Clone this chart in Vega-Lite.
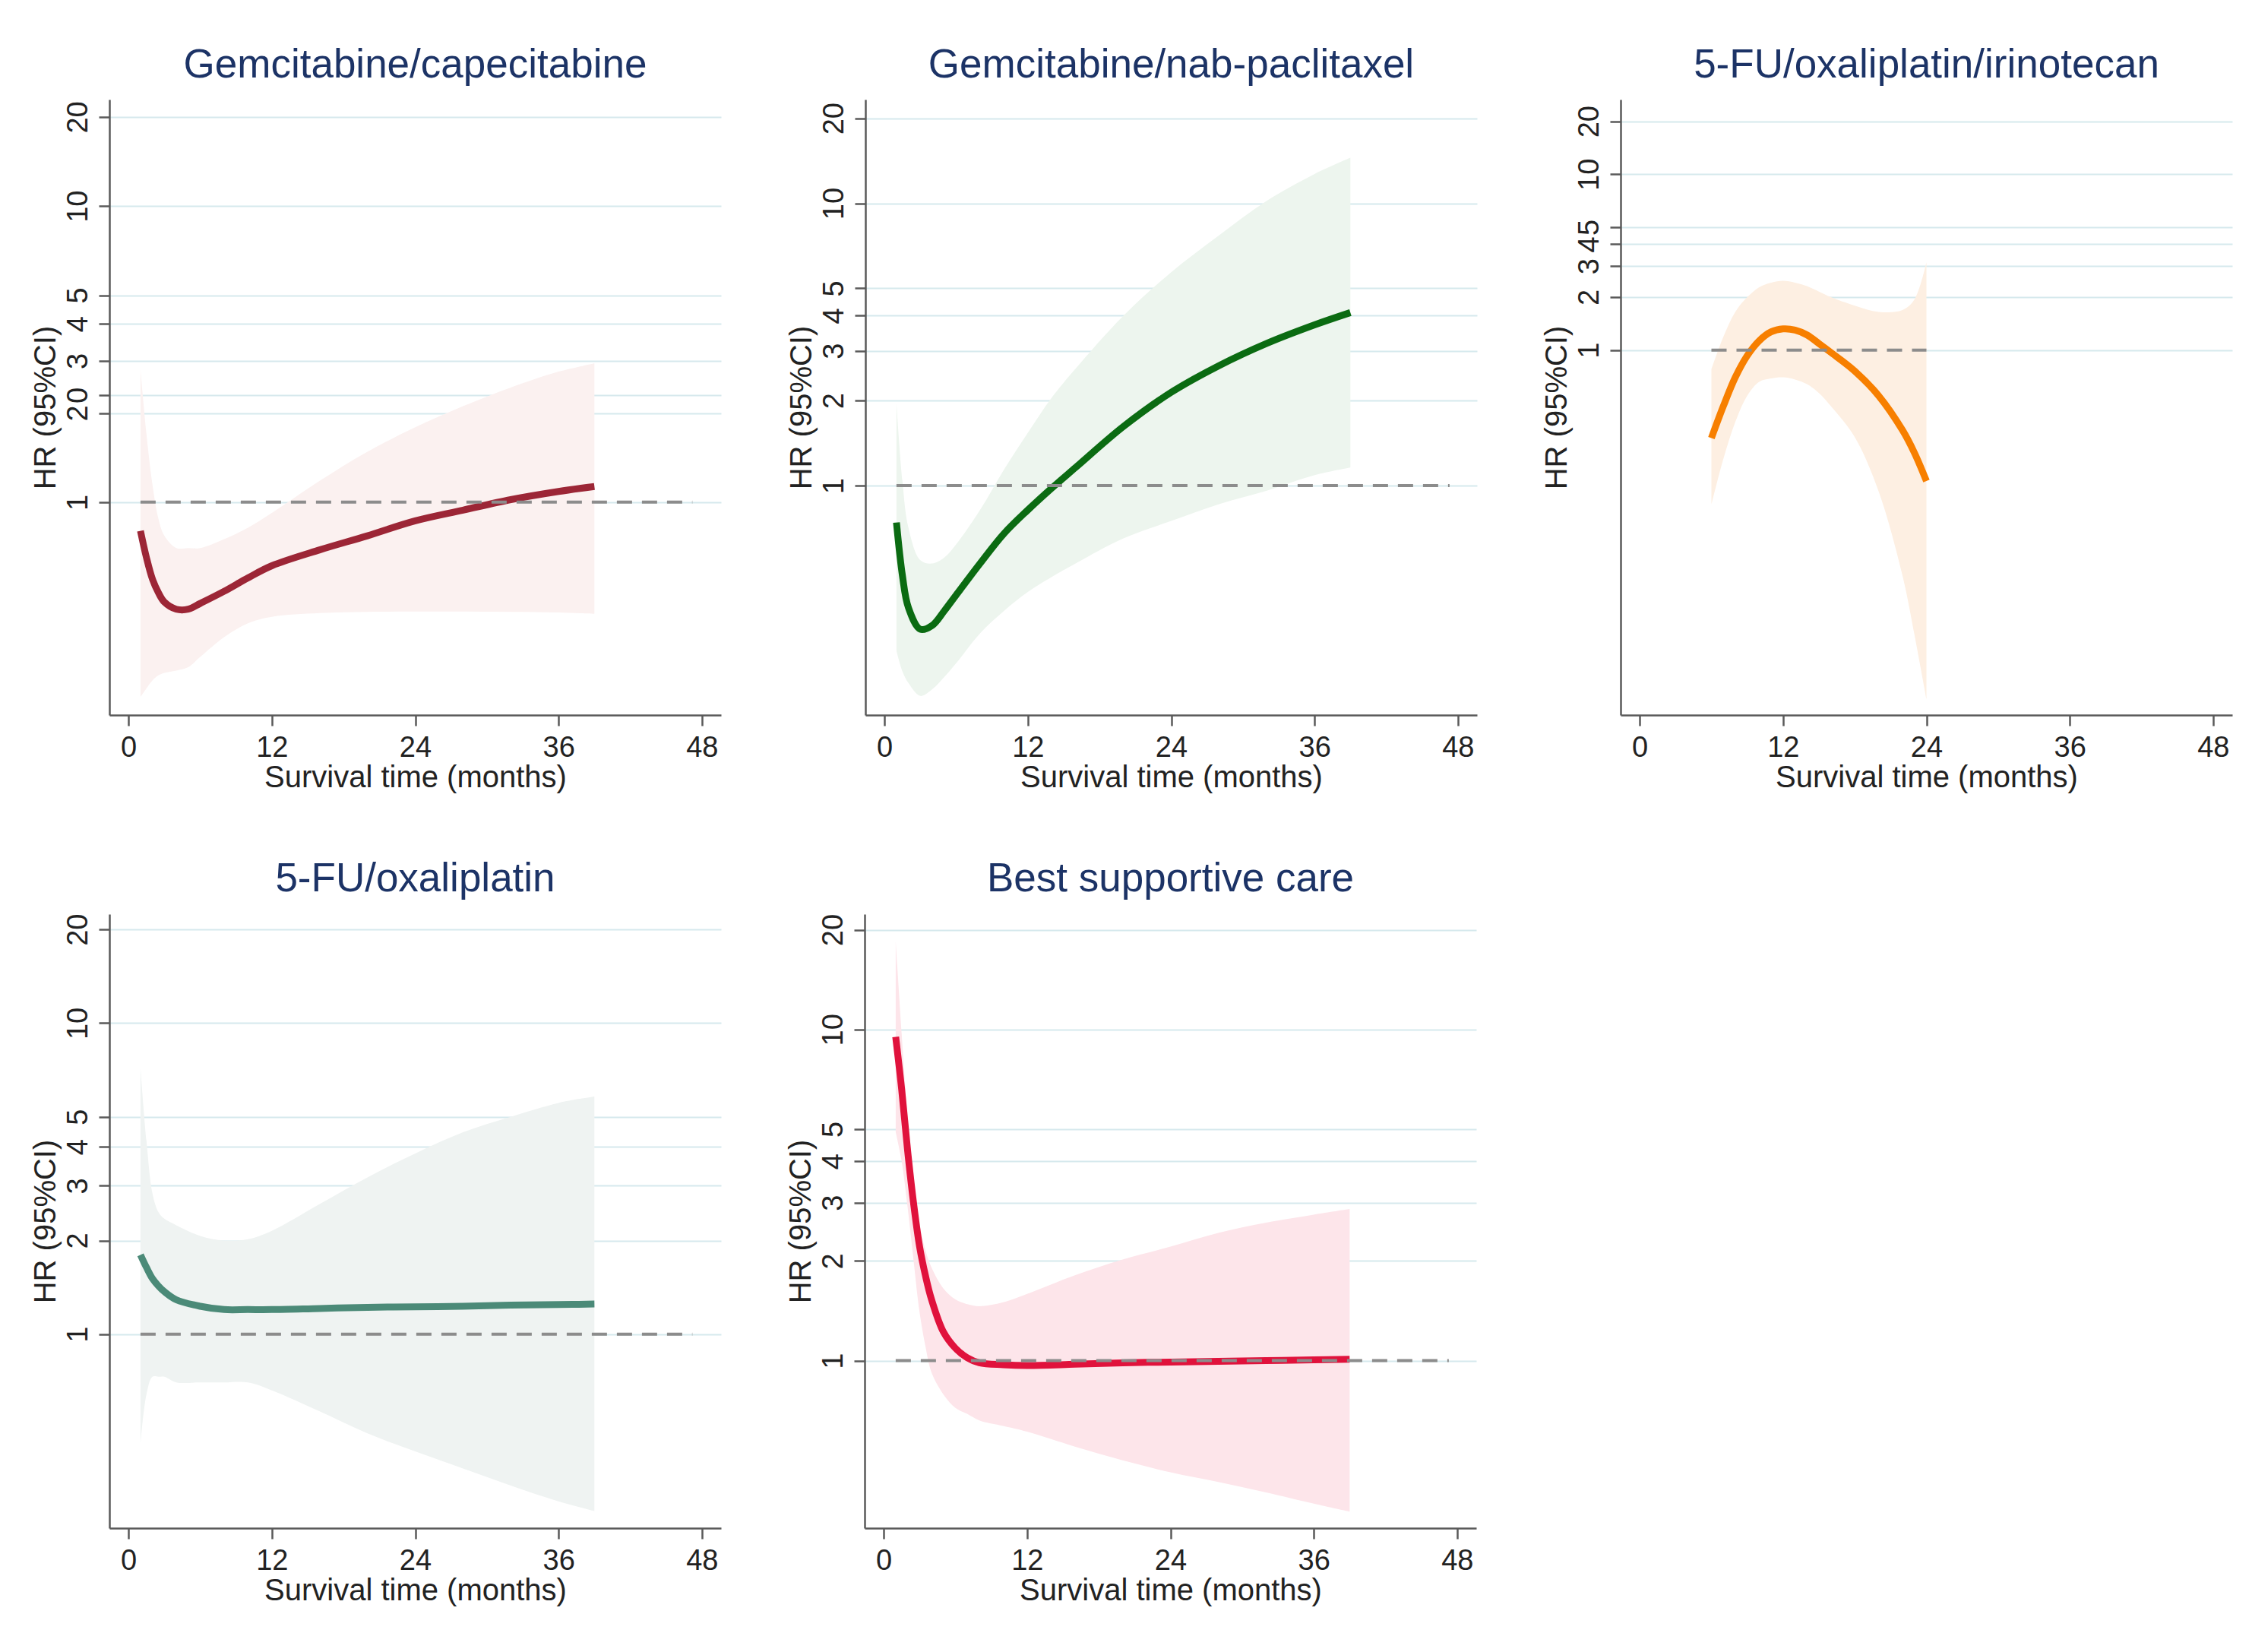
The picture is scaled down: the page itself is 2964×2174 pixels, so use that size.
{
"$schema": "https://vega.github.io/schema/vega-lite/v6.json",
"background": "white",
"padding": {"left": 40, "top": 60, "right": 5, "bottom": 5},
"config": {
  "font": "Liberation Sans",
  "view": {"stroke": null},
  "axis": {"labelFontSize": 38, "titleFontSize": 40, "titleFontWeight": "normal", "labelColor": "#222222", "titleColor": "#222222", "domainColor": "#5a5a5a", "domainWidth": 2.5, "tickColor": "#5a5a5a", "tickWidth": 2.5, "tickSize": 14, "gridColor": "#d6e9ed", "gridWidth": 2, "labelOverlap": false, "labelFlush": false},
  "axisX": {"labelPadding": 10, "titlePadding": 0},
  "axisY": {"labelAngle": -90, "labelAlign": "center", "labelBaseline": "bottom", "labelPadding": 8, "titlePadding": 4},
  "title": {"fontSize": 53, "fontWeight": "normal", "color": "#1c3366", "offset": 18, "anchor": "middle", "frame": "group"}
},
"datasets": {
  "curves": [
    {"p":"A","t":1,"hr":0.80,"lo":0.22,"hi":2.8},
    {"p":"A","t":1.5,"hr":0.65,"lo":0.235,"hi":1.7},
    {"p":"A","t":2,"hr":0.55,"lo":0.25,"hi":1.15},
    {"p":"A","t":2.5,"hr":0.495,"lo":0.26,"hi":0.88},
    {"p":"A","t":3,"hr":0.46,"lo":0.265,"hi":0.77},
    {"p":"A","t":4,"hr":0.435,"lo":0.27,"hi":0.70},
    {"p":"A","t":5,"hr":0.435,"lo":0.277,"hi":0.70},
    {"p":"A","t":6,"hr":0.455,"lo":0.30,"hi":0.70},
    {"p":"A","t":8,"hr":0.50,"lo":0.35,"hi":0.75},
    {"p":"A","t":10,"hr":0.555,"lo":0.39,"hi":0.82},
    {"p":"A","t":12,"hr":0.61,"lo":0.41,"hi":0.92},
    {"p":"A","t":16,"hr":0.69,"lo":0.422,"hi":1.18},
    {"p":"A","t":20,"hr":0.77,"lo":0.426,"hi":1.48},
    {"p":"A","t":24,"hr":0.865,"lo":0.427,"hi":1.79},
    {"p":"A","t":28,"hr":0.94,"lo":0.427,"hi":2.11},
    {"p":"A","t":32,"hr":1.02,"lo":0.426,"hi":2.44},
    {"p":"A","t":36,"hr":1.087,"lo":0.424,"hi":2.76},
    {"p":"A","t":39,"hr":1.13,"lo":0.42,"hi":2.94},
    {"p":"B","t":1,"hr":0.74,"lo":0.26,"hi":1.96},
    {"p":"B","t":1.5,"hr":0.48,"lo":0.22,"hi":1.04},
    {"p":"B","t":2,"hr":0.37,"lo":0.20,"hi":0.71},
    {"p":"B","t":3,"hr":0.31,"lo":0.18,"hi":0.544},
    {"p":"B","t":4,"hr":0.32,"lo":0.19,"hi":0.53},
    {"p":"B","t":5,"hr":0.36,"lo":0.21,"hi":0.556},
    {"p":"B","t":6,"hr":0.41,"lo":0.235,"hi":0.62},
    {"p":"B","t":8,"hr":0.53,"lo":0.30,"hi":0.82},
    {"p":"B","t":10,"hr":0.676,"lo":0.36,"hi":1.14},
    {"p":"B","t":12,"hr":0.82,"lo":0.42,"hi":1.54},
    {"p":"B","t":14,"hr":0.98,"lo":0.475,"hi":2.05},
    {"p":"B","t":16,"hr":1.16,"lo":0.53,"hi":2.6},
    {"p":"B","t":20,"hr":1.62,"lo":0.65,"hi":4.0},
    {"p":"B","t":24,"hr":2.14,"lo":0.75,"hi":5.7},
    {"p":"B","t":28,"hr":2.66,"lo":0.86,"hi":7.7},
    {"p":"B","t":32,"hr":3.19,"lo":0.96,"hi":10.2},
    {"p":"B","t":36,"hr":3.71,"lo":1.09,"hi":12.7},
    {"p":"B","t":39,"hr":4.1,"lo":1.16,"hi":14.5},
    {"p":"C","t":6,"hr":0.316,"lo":0.132,"hi":0.78},
    {"p":"C","t":7,"hr":0.48,"lo":0.24,"hi":1.19},
    {"p":"C","t":8,"hr":0.70,"lo":0.39,"hi":1.65},
    {"p":"C","t":9,"hr":0.93,"lo":0.55,"hi":2.0},
    {"p":"C","t":10,"hr":1.13,"lo":0.66,"hi":2.28},
    {"p":"C","t":11,"hr":1.27,"lo":0.69,"hi":2.42},
    {"p":"C","t":12,"hr":1.32,"lo":0.70,"hi":2.48},
    {"p":"C","t":13,"hr":1.30,"lo":0.68,"hi":2.42},
    {"p":"C","t":14,"hr":1.22,"lo":0.64,"hi":2.31},
    {"p":"C","t":15,"hr":1.09,"lo":0.57,"hi":2.15},
    {"p":"C","t":16,"hr":0.97,"lo":0.48,"hi":2.0},
    {"p":"C","t":18,"hr":0.76,"lo":0.32,"hi":1.79},
    {"p":"C","t":20,"hr":0.55,"lo":0.157,"hi":1.65},
    {"p":"C","t":22,"hr":0.35,"lo":0.052,"hi":1.69},
    {"p":"C","t":23,"hr":0.26,"lo":0.024,"hi":1.94},
    {"p":"C","t":24,"hr":0.18,"lo":0.0104,"hi":3.16},
    {"p":"D","t":1,"hr":1.80,"lo":0.446,"hi":7.16},
    {"p":"D","t":1.5,"hr":1.64,"lo":0.64,"hi":4.2},
    {"p":"D","t":2,"hr":1.51,"lo":0.73,"hi":2.84},
    {"p":"D","t":2.5,"hr":1.43,"lo":0.73,"hi":2.47},
    {"p":"D","t":3,"hr":1.37,"lo":0.73,"hi":2.35},
    {"p":"D","t":4,"hr":1.29,"lo":0.70,"hi":2.24},
    {"p":"D","t":6,"hr":1.23,"lo":0.70,"hi":2.07},
    {"p":"D","t":8,"hr":1.20,"lo":0.70,"hi":2.0},
    {"p":"D","t":10,"hr":1.20,"lo":0.70,"hi":2.02},
    {"p":"D","t":12,"hr":1.20,"lo":0.66,"hi":2.15},
    {"p":"D","t":16,"hr":1.21,"lo":0.565,"hi":2.62},
    {"p":"D","t":20,"hr":1.22,"lo":0.48,"hi":3.19},
    {"p":"D","t":24,"hr":1.225,"lo":0.42,"hi":3.81},
    {"p":"D","t":28,"hr":1.23,"lo":0.37,"hi":4.46},
    {"p":"D","t":32,"hr":1.24,"lo":0.326,"hi":5.0},
    {"p":"D","t":36,"hr":1.245,"lo":0.29,"hi":5.54},
    {"p":"D","t":39,"hr":1.25,"lo":0.27,"hi":5.81},
    {"p":"E","t":1,"hr":9.5,"lo":4.9,"hi":18.5},
    {"p":"E","t":1.5,"hr":6.6,"lo":4.0,"hi":9.7},
    {"p":"E","t":2,"hr":4.3,"lo":2.9,"hi":5.37},
    {"p":"E","t":2.5,"hr":2.98,"lo":2.0,"hi":3.45},
    {"p":"E","t":3,"hr":2.21,"lo":1.4,"hi":2.57},
    {"p":"E","t":3.5,"hr":1.8,"lo":1.1,"hi":2.15},
    {"p":"E","t":4,"hr":1.53,"lo":0.92,"hi":1.91},
    {"p":"E","t":5,"hr":1.22,"lo":0.79,"hi":1.65},
    {"p":"E","t":6,"hr":1.09,"lo":0.72,"hi":1.53},
    {"p":"E","t":7,"hr":1.02,"lo":0.69,"hi":1.48},
    {"p":"E","t":8,"hr":0.985,"lo":0.66,"hi":1.46},
    {"p":"E","t":10,"hr":0.972,"lo":0.635,"hi":1.50},
    {"p":"E","t":12,"hr":0.967,"lo":0.61,"hi":1.59},
    {"p":"E","t":16,"hr":0.975,"lo":0.55,"hi":1.81},
    {"p":"E","t":20,"hr":0.985,"lo":0.50,"hi":2.02},
    {"p":"E","t":24,"hr":0.99,"lo":0.46,"hi":2.21},
    {"p":"E","t":28,"hr":0.995,"lo":0.43,"hi":2.43},
    {"p":"E","t":32,"hr":1.0,"lo":0.40,"hi":2.61},
    {"p":"E","t":36,"hr":1.005,"lo":0.37,"hi":2.76},
    {"p":"E","t":39,"hr":1.01,"lo":0.35,"hi":2.87}
  ],
  "refs": [
    {"p":"A","x0":1,"x1":47.2,"y":1},
    {"p":"B","x0":1,"x1":47.3,"y":1},
    {"p":"C","x0":6,"x1":24,"y":1},
    {"p":"D","x0":1,"x1":47.2,"y":1},
    {"p":"E","x0":1,"x1":47.3,"y":1}
  ]
},
"spacing": 88,
"vconcat": [
 {"spacing": 85, "hconcat": [
  {"width": 805, "height": 810, "title": {"text": "Gemcitabine/capecitabine"},
   "layer": [
    {"data": {"name": "curves"}, "transform": [{"filter": "datum.p === 'A'"}],
     "mark": {"type": "area", "color": "#fbf1f0", "interpolate": "catmull-rom"},
     "encoding": {
      "x": {"field": "t", "type": "quantitative", "scale": {"domain": [-1.6, 49.6], "nice": false, "zero": false}, "axis": {"values": [0,12,24,36,48], "grid": false, "title": "Survival time (months)"}},
      "y": {"field": "lo", "type": "quantitative", "scale": {"type": "log", "domain": [0.191, 22.9], "nice": false}, "axis": {"values": [1,2,2.3,3,4,5,10,20], "title": "HR (95%CI)", "labelExpr": "datum.value === 2.3 ? '0' : datum.label"}},
      "y2": {"field": "hi"}}},
    {"data": {"name": "curves"}, "transform": [{"filter": "datum.p === 'A'"}],
     "mark": {"type": "line", "color": "#9c2636", "strokeWidth": 9, "interpolate": "catmull-rom"},
     "encoding": {"x": {"field": "t", "type": "quantitative"}, "y": {"field": "hr", "type": "quantitative"}}},
    {"data": {"name": "refs"}, "transform": [{"filter": "datum.p === 'A'"}],
     "mark": {"type": "rule", "color": "#8c8c8c", "strokeWidth": 4, "strokeDash": [20, 13]},
     "encoding": {"x": {"field": "x0", "type": "quantitative"}, "x2": {"field": "x1"}, "y": {"field": "y", "type": "quantitative"}}}
   ]},
  {"width": 805, "height": 810, "title": {"text": "Gemcitabine/nab-paclitaxel"},
   "layer": [
    {"data": {"name": "curves"}, "transform": [{"filter": "datum.p === 'B'"}],
     "mark": {"type": "area", "color": "#edf5ee", "interpolate": "catmull-rom"},
     "encoding": {
      "x": {"field": "t", "type": "quantitative", "scale": {"domain": [-1.6, 49.6], "nice": false, "zero": false}, "axis": {"values": [0,12,24,36,48], "grid": false, "title": "Survival time (months)"}},
      "y": {"field": "lo", "type": "quantitative", "scale": {"type": "log", "domain": [0.154, 23.3], "nice": false}, "axis": {"values": [1,2,3,4,5,10,20], "title": "HR (95%CI)"}},
      "y2": {"field": "hi"}}},
    {"data": {"name": "curves"}, "transform": [{"filter": "datum.p === 'B'"}],
     "mark": {"type": "line", "color": "#0b6b12", "strokeWidth": 9, "interpolate": "catmull-rom"},
     "encoding": {"x": {"field": "t", "type": "quantitative"}, "y": {"field": "hr", "type": "quantitative"}}},
    {"data": {"name": "refs"}, "transform": [{"filter": "datum.p === 'B'"}],
     "mark": {"type": "rule", "color": "#8c8c8c", "strokeWidth": 4, "strokeDash": [20, 13]},
     "encoding": {"x": {"field": "x0", "type": "quantitative"}, "x2": {"field": "x1"}, "y": {"field": "y", "type": "quantitative"}}}
   ]},
  {"width": 805, "height": 810, "title": {"text": "5-FU/oxaliplatin/irinotecan"},
   "layer": [
    {"data": {"name": "curves"}, "transform": [{"filter": "datum.p === 'C'"}],
     "mark": {"type": "area", "color": "#fdefe2", "interpolate": "catmull-rom"},
     "encoding": {
      "x": {"field": "t", "type": "quantitative", "scale": {"domain": [-1.6, 49.6], "nice": false, "zero": false}, "axis": {"values": [0,12,24,36,48], "grid": false, "title": "Survival time (months)"}},
      "y": {"field": "lo", "type": "quantitative", "scale": {"type": "log", "domain": [0.0084, 26.6], "nice": false}, "axis": {"values": [1,2,3,4,5,10,20], "title": "HR (95%CI)"}},
      "y2": {"field": "hi"}}},
    {"data": {"name": "curves"}, "transform": [{"filter": "datum.p === 'C'"}],
     "mark": {"type": "line", "color": "#f77f00", "strokeWidth": 9, "interpolate": "catmull-rom"},
     "encoding": {"x": {"field": "t", "type": "quantitative"}, "y": {"field": "hr", "type": "quantitative"}}},
    {"data": {"name": "refs"}, "transform": [{"filter": "datum.p === 'C'"}],
     "mark": {"type": "rule", "color": "#8c8c8c", "strokeWidth": 4, "strokeDash": [20, 13]},
     "encoding": {"x": {"field": "x0", "type": "quantitative"}, "x2": {"field": "x1"}, "y": {"field": "y", "type": "quantitative"}}}
   ]}
 ], "resolve": {"scale": {"x": "independent", "y": "independent"}}},
 {"spacing": 85, "hconcat": [
  {"width": 805, "height": 808, "title": {"text": "5-FU/oxaliplatin"},
   "layer": [
    {"data": {"name": "curves"}, "transform": [{"filter": "datum.p === 'D'"}],
     "mark": {"type": "area", "color": "#eff3f2", "interpolate": "catmull-rom"},
     "encoding": {
      "x": {"field": "t", "type": "quantitative", "scale": {"domain": [-1.6, 49.6], "nice": false, "zero": false}, "axis": {"values": [0,12,24,36,48], "grid": false, "title": "Survival time (months)"}},
      "y": {"field": "lo", "type": "quantitative", "scale": {"type": "log", "domain": [0.238, 22.4], "nice": false}, "axis": {"values": [1,2,3,4,5,10,20], "title": "HR (95%CI)"}},
      "y2": {"field": "hi"}}},
    {"data": {"name": "curves"}, "transform": [{"filter": "datum.p === 'D'"}],
     "mark": {"type": "line", "color": "#4b8a78", "strokeWidth": 9, "interpolate": "catmull-rom"},
     "encoding": {"x": {"field": "t", "type": "quantitative"}, "y": {"field": "hr", "type": "quantitative"}}},
    {"data": {"name": "refs"}, "transform": [{"filter": "datum.p === 'D'"}],
     "mark": {"type": "rule", "color": "#8c8c8c", "strokeWidth": 4, "strokeDash": [20, 13]},
     "encoding": {"x": {"field": "x0", "type": "quantitative"}, "x2": {"field": "x1"}, "y": {"field": "y", "type": "quantitative"}}}
   ]},
  {"width": 805, "height": 808, "title": {"text": "Best supportive care"},
   "layer": [
    {"data": {"name": "curves"}, "transform": [{"filter": "datum.p === 'E'"}],
     "mark": {"type": "area", "color": "#fde5ea", "interpolate": "catmull-rom"},
     "encoding": {
      "x": {"field": "t", "type": "quantitative", "scale": {"domain": [-1.6, 49.6], "nice": false, "zero": false}, "axis": {"values": [0,12,24,36,48], "grid": false, "title": "Survival time (months)"}},
      "y": {"field": "lo", "type": "quantitative", "scale": {"type": "log", "domain": [0.312, 22.3], "nice": false}, "axis": {"values": [1,2,3,4,5,10,20], "title": "HR (95%CI)"}},
      "y2": {"field": "hi"}}},
    {"data": {"name": "curves"}, "transform": [{"filter": "datum.p === 'E'"}],
     "mark": {"type": "line", "color": "#e0123c", "strokeWidth": 9, "interpolate": "catmull-rom"},
     "encoding": {"x": {"field": "t", "type": "quantitative"}, "y": {"field": "hr", "type": "quantitative"}}},
    {"data": {"name": "refs"}, "transform": [{"filter": "datum.p === 'E'"}],
     "mark": {"type": "rule", "color": "#8c8c8c", "strokeWidth": 4, "strokeDash": [20, 13]},
     "encoding": {"x": {"field": "x0", "type": "quantitative"}, "x2": {"field": "x1"}, "y": {"field": "y", "type": "quantitative"}}}
   ]}
 ], "resolve": {"scale": {"x": "independent", "y": "independent"}}}
],
"resolve": {"scale": {"x": "independent", "y": "independent"}}
}
